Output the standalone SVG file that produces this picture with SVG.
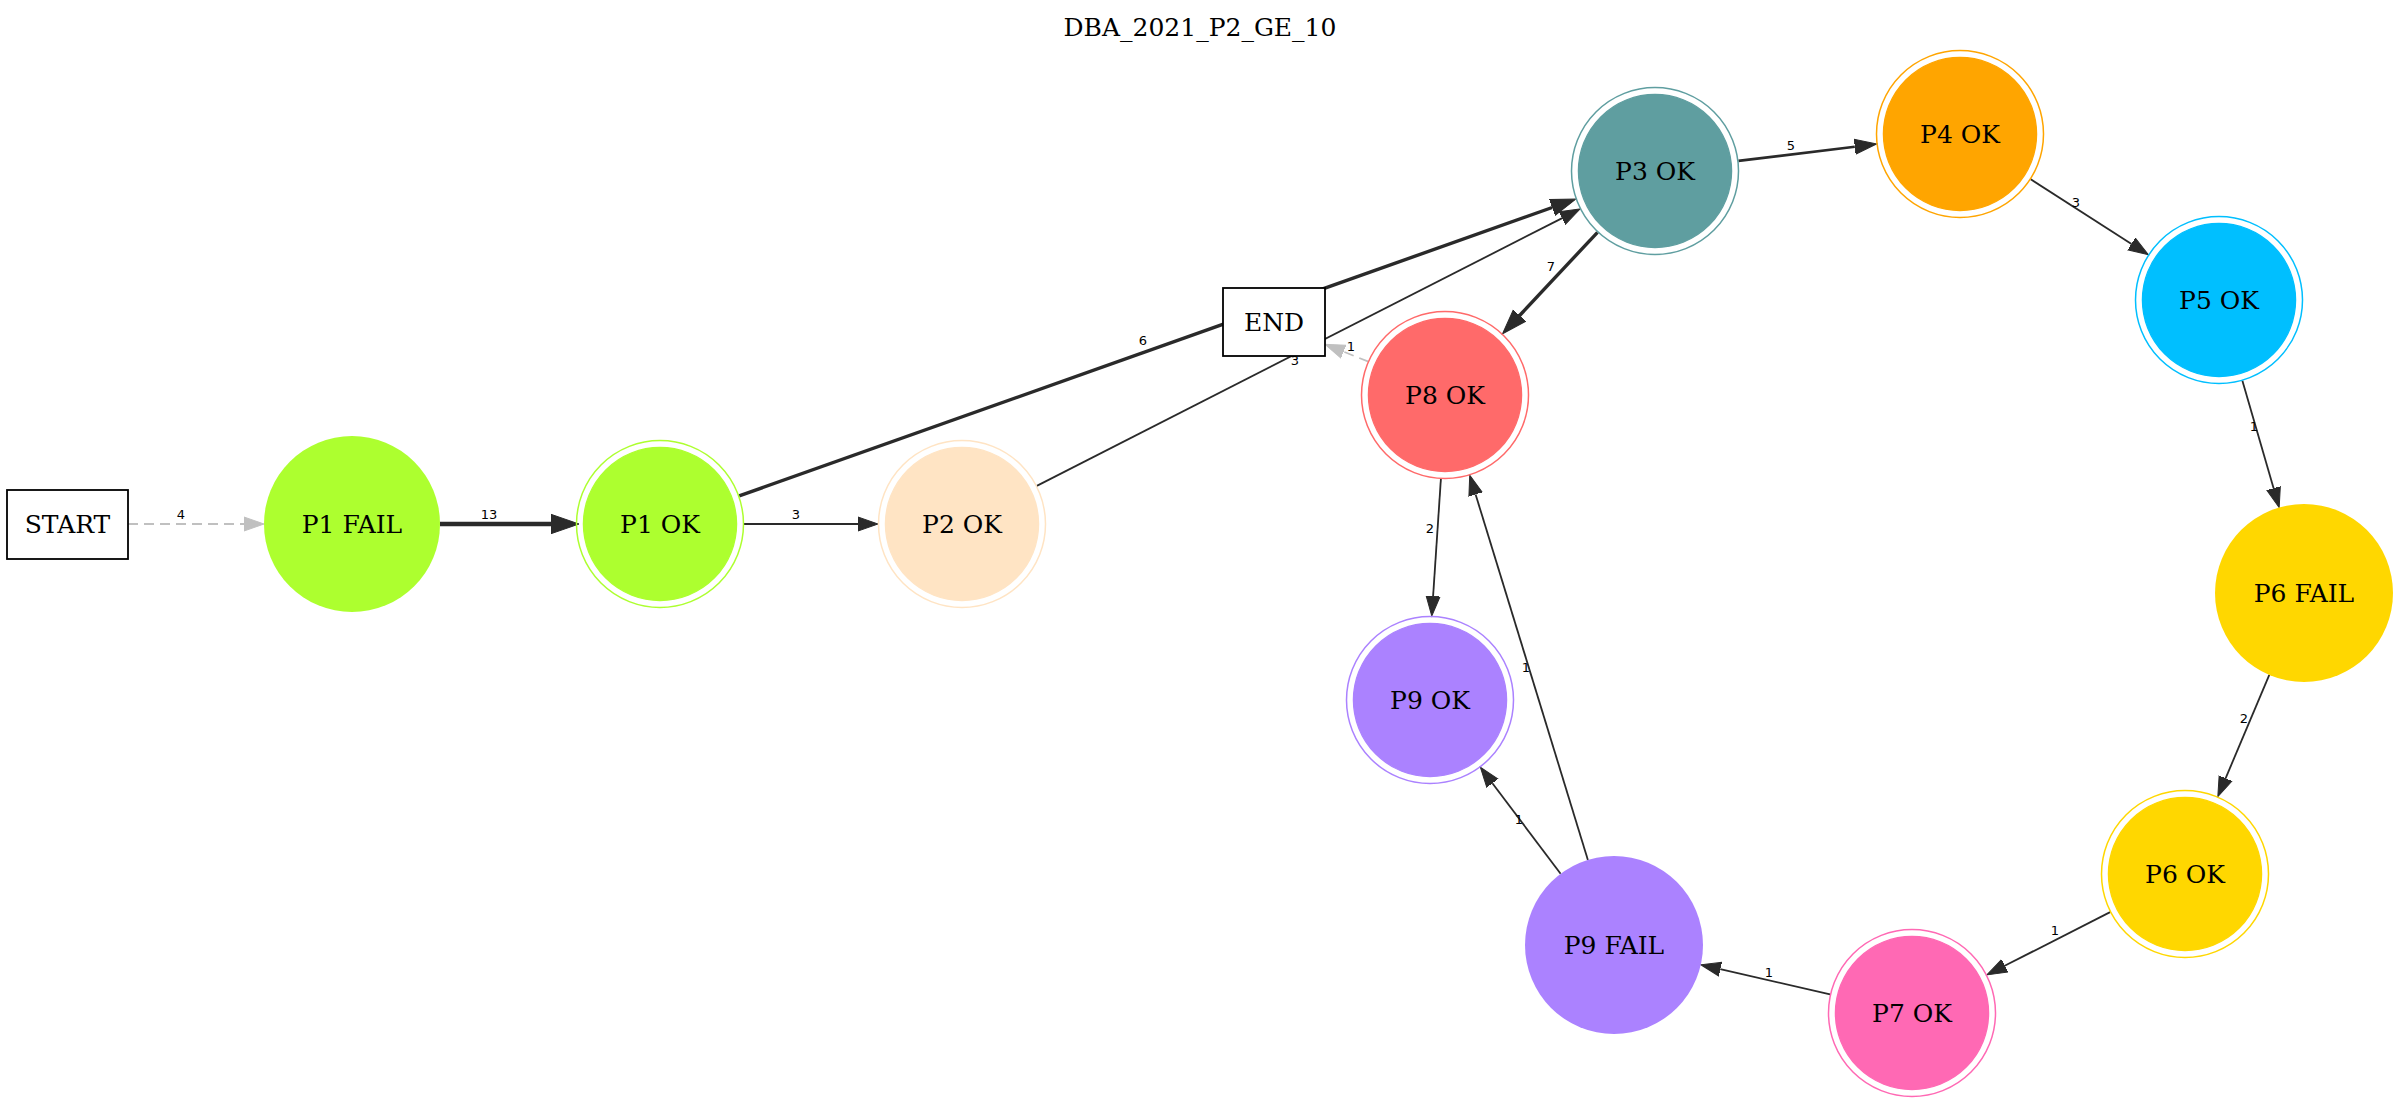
<svg xmlns="http://www.w3.org/2000/svg" width="2400" height="1105" viewBox="0 0 2400 1105">
<style>
.bg{fill:#ffffff}
.nl{font-family:"DejaVu Serif","Liberation Serif",serif;font-size:25px;fill:#000;text-anchor:middle}
.el{font-family:"DejaVu Sans","Liberation Sans",sans-serif;font-size:13px;fill:#000;text-anchor:middle}
.e{fill:none;stroke:#2a2a2a;stroke-width:1.8}
.e2{fill:none;stroke:#2a2a2a;stroke-width:2.6}
.e3{fill:none;stroke:#2a2a2a;stroke-width:3.4}
.e4{fill:none;stroke:#2a2a2a;stroke-width:4.6}
.g{fill:none;stroke:#c0c0c0;stroke-width:1.8;stroke-dasharray:10,6}
.box{fill:#ffffff;stroke:#000;stroke-width:1.8}
.ring{fill:none;stroke-width:1.5}
</style>
<defs>
<marker id="a1" markerUnits="userSpaceOnUse" viewBox="0 0 22 16" markerWidth="22" markerHeight="16" refX="0" refY="8" orient="auto"><path d="M0,1 L20,8 L0,15 z" fill="#2a2a2a" stroke="#2a2a2a" stroke-width="1"/></marker>
<marker id="a2" markerUnits="userSpaceOnUse" viewBox="0 0 24 18" markerWidth="24" markerHeight="18" refX="0" refY="9" orient="auto"><path d="M0,1.5 L22,9 L0,16.5 z" fill="#2a2a2a" stroke="#2a2a2a" stroke-width="1"/></marker>
<marker id="a3" markerUnits="userSpaceOnUse" viewBox="0 0 27 20" markerWidth="27" markerHeight="20" refX="0" refY="10" orient="auto"><path d="M0,1.5 L25,10 L0,18.5 z" fill="#2a2a2a" stroke="#2a2a2a" stroke-width="1"/></marker>
<marker id="a4" markerUnits="userSpaceOnUse" viewBox="0 0 30 22" markerWidth="30" markerHeight="22" refX="0" refY="11" orient="auto"><path d="M0,1.3 L28,11 L0,20.7 z" fill="#2a2a2a" stroke="#2a2a2a" stroke-width="1"/></marker>
<marker id="ag" markerUnits="userSpaceOnUse" viewBox="0 0 22 16" markerWidth="22" markerHeight="16" refX="0" refY="8" orient="auto"><path d="M0,1 L20,8 L0,15 z" fill="#c0c0c0" stroke="#c0c0c0" stroke-width="1"/></marker>
</defs>
<rect class="bg" x="0" y="0" width="2400" height="1105"/>
<text class="nl" x="1200" y="36">DBA_2021_P2_GE_10</text>

<g id="connectors">
<line class="g" x1="128" y1="524" x2="244" y2="524" marker-end="url(#ag)"/>
<text class="el" x="181" y="519">4</text>
<line class="e4" x1="440" y1="524" x2="551" y2="524" marker-end="url(#a4)"/>
<text class="el" x="489" y="519">13</text>
<line class="e" x1="744" y1="524" x2="858" y2="524" marker-end="url(#a1)"/>
<text class="el" x="796" y="519">3</text>
<line class="e3" x1="739.2" y1="495.9" x2="1552.2" y2="207.5" marker-end="url(#a3)"/>
<text class="el" x="1143" y="345">6</text>
<line class="e" x1="1036.8" y1="485.9" x2="1562.2" y2="218.1" marker-end="url(#a1)"/>
<text class="el" x="1295" y="365">3</text>
<line class="e2" x1="1738.4" y1="160.9" x2="1854.8" y2="146.7" marker-end="url(#a2)"/>
<text class="el" x="1791" y="150">5</text>
<line class="e3" x1="1597.5" y1="232.3" x2="1519.6" y2="315.5" marker-end="url(#a3)"/>
<text class="el" x="1551" y="271">7</text>
<line class="g" x1="1368.5" y1="361.7" x2="1343.6" y2="351.7" marker-end="url(#ag)"/>
<text class="el" x="1351" y="351">1</text>
<line class="e" x1="2030.7" y1="179.3" x2="2131.5" y2="243.9" marker-end="url(#a1)"/>
<text class="el" x="2076" y="207">3</text>
<line class="e" x1="2242.4" y1="380.7" x2="2273.6" y2="488.3" marker-end="url(#a1)"/>
<text class="el" x="2254" y="431">1</text>
<line class="e" x1="2269.3" y1="674.9" x2="2225.6" y2="778.3" marker-end="url(#a1)"/>
<text class="el" x="2244" y="723">2</text>
<line class="e" x1="2110.1" y1="912.1" x2="2004.7" y2="965.8" marker-end="url(#a1)"/>
<text class="el" x="2055" y="935">1</text>
<line class="e" x1="1830.1" y1="994.3" x2="1720.3" y2="969.2" marker-end="url(#a1)"/>
<text class="el" x="1769" y="977">1</text>
<line class="e" x1="1560.6" y1="873.8" x2="1492.4" y2="783.2" marker-end="url(#a1)"/>
<text class="el" x="1519" y="824">1</text>
<line class="e" x1="1587.9" y1="859.9" x2="1475.6" y2="494.4" marker-end="url(#a1)"/>
<text class="el" x="1526" y="672">1</text>
<line class="e" x1="1440.9" y1="478.9" x2="1433.1" y2="596.1" marker-end="url(#a1)"/>
<text class="el" x="1430" y="533">2</text>
</g>

<g id="START">
<rect class="box" x="7" y="490" width="121" height="69"/>
<text class="nl" x="67.5" y="533">START</text>
</g>
<g id="P1_FAIL">
<circle cx="352" cy="524" r="88" fill="#adff2f"/>
<text class="nl" x="352" y="533">P1 FAIL</text>
</g>
<g id="P1_OK">
<circle class="ring" cx="660" cy="524" r="83.5" stroke="#adff2f"/>
<circle cx="660" cy="524" r="76.5" fill="#adff2f" stroke="#adff2f" stroke-width="1.5"/>
<text class="nl" x="660" y="533">P1 OK</text>
</g>
<g id="P2_OK">
<circle class="ring" cx="962" cy="524" r="83.5" stroke="#ffe4c4"/>
<circle cx="962" cy="524" r="76.5" fill="#ffe4c4" stroke="#ffe4c4" stroke-width="1.5"/>
<text class="nl" x="962" y="533">P2 OK</text>
</g>
<g id="END">
<rect class="box" x="1223" y="288" width="102" height="68"/>
<text class="nl" x="1274" y="331">END</text>
</g>
<g id="P3_OK">
<circle class="ring" cx="1655" cy="171" r="83.5" stroke="#5f9ea0"/>
<circle cx="1655" cy="171" r="76.5" fill="#5f9ea0" stroke="#5f9ea0" stroke-width="1.5"/>
<text class="nl" x="1655" y="180">P3 OK</text>
</g>
<g id="P4_OK">
<circle class="ring" cx="1960" cy="134" r="83.5" stroke="#ffa500"/>
<circle cx="1960" cy="134" r="76.5" fill="#ffa500" stroke="#ffa500" stroke-width="1.5"/>
<text class="nl" x="1960" y="143">P4 OK</text>
</g>
<g id="P5_OK">
<circle class="ring" cx="2219" cy="300" r="83.5" stroke="#00bfff"/>
<circle cx="2219" cy="300" r="76.5" fill="#00bfff" stroke="#00bfff" stroke-width="1.5"/>
<text class="nl" x="2219" y="309">P5 OK</text>
</g>
<g id="P6_FAIL">
<circle cx="2304" cy="593" r="89" fill="#ffd700"/>
<text class="nl" x="2304" y="602">P6 FAIL</text>
</g>
<g id="P6_OK">
<circle class="ring" cx="2185" cy="874" r="83.5" stroke="#ffd700"/>
<circle cx="2185" cy="874" r="76.5" fill="#ffd700" stroke="#ffd700" stroke-width="1.5"/>
<text class="nl" x="2185" y="883">P6 OK</text>
</g>
<g id="P7_OK">
<circle class="ring" cx="1912" cy="1013" r="83.5" stroke="#ff69b4"/>
<circle cx="1912" cy="1013" r="76.5" fill="#ff69b4" stroke="#ff69b4" stroke-width="1.5"/>
<text class="nl" x="1912" y="1022">P7 OK</text>
</g>
<g id="P9_FAIL">
<circle cx="1614" cy="945" r="89" fill="#ab82ff"/>
<text class="nl" x="1614" y="954">P9 FAIL</text>
</g>
<g id="P9_OK">
<circle class="ring" cx="1430" cy="700" r="83.5" stroke="#ab82ff"/>
<circle cx="1430" cy="700" r="76.5" fill="#ab82ff" stroke="#ab82ff" stroke-width="1.5"/>
<text class="nl" x="1430" y="709">P9 OK</text>
</g>
<g id="P8_OK">
<circle class="ring" cx="1445" cy="395" r="83.5" stroke="#ff6a6a"/>
<circle cx="1445" cy="395" r="76.5" fill="#ff6a6a" stroke="#ff6a6a" stroke-width="1.5"/>
<text class="nl" x="1445" y="404">P8 OK</text>
</g>
</svg>
